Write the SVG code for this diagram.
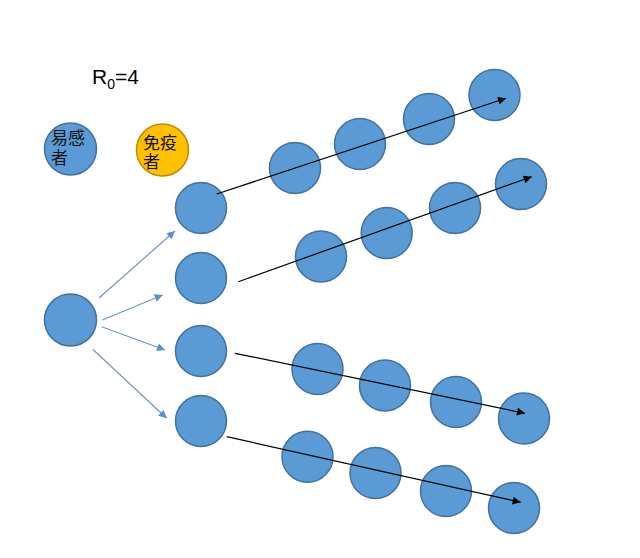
<svg xmlns="http://www.w3.org/2000/svg" width="640" height="558" viewBox="0 0 640 558">
<style>
.n{fill:#5B9BD5;stroke:#41719C;stroke-width:1.5}
.im{fill:#FFC000;stroke:#BC8C00;stroke-width:1.5}
.t{font-family:"Liberation Sans","Noto Sans CJK SC",sans-serif;fill:#000}
.cj{font-family:"Liberation Sans","Noto Sans CJK SC",sans-serif;fill:#111}
.bl{stroke:#6F98C4;stroke-width:1.2;fill:none}
.bk{stroke:#000;stroke-width:1.2;fill:none}
</style>
<defs>
<marker id="ab" viewBox="0 0 10 10" refX="10" refY="5" markerWidth="10" markerHeight="8" markerUnits="userSpaceOnUse" orient="auto">
<path d="M0,0 L10,5 L0,10 z" fill="#5B8FC8"/>
</marker>
<marker id="ak" viewBox="0 0 10 10" refX="10" refY="5" markerWidth="11" markerHeight="8" markerUnits="userSpaceOnUse" orient="auto">
<path d="M0,0 L10,5 L0,10 z" fill="#000"/>
</marker>
</defs>
<rect width="640" height="558" fill="#fff"/>
<g id="title"><text class="t" x="92" y="84" font-size="21">R<tspan font-size="14" dy="5">0</tspan><tspan dy="-5">=4</tspan></text></g>
<g id="legend-susceptible"><circle class="n" cx="70.5" cy="149" r="26"/><text class="cj" font-size="17"><tspan x="51" y="144">易感</tspan><tspan x="51" y="164">者</tspan></text></g>
<g id="legend-immune"><circle class="im" cx="162.5" cy="150" r="26"/><text class="cj" font-size="17"><tspan x="143" y="149">免疫</tspan><tspan x="143" y="168">者</tspan></text></g>
<g id="source"><circle class="n" cx="70.5" cy="320" r="26"/></g>
<g id="c1"><circle class="n" cx="201" cy="208" r="25.5"/></g>
<g id="c2"><circle class="n" cx="201" cy="278" r="25.5"/></g>
<g id="c3"><circle class="n" cx="201" cy="351" r="25.5"/></g>
<g id="c4"><circle class="n" cx="201" cy="421" r="25.5"/></g>
<g id="row1"><circle class="n" cx="295" cy="168" r="25.5"/><circle class="n" cx="360" cy="144" r="25.5"/><circle class="n" cx="429" cy="119" r="25.5"/><circle class="n" cx="494.5" cy="95" r="25.5"/></g>
<g id="row2"><circle class="n" cx="321" cy="256.5" r="25.5"/><circle class="n" cx="386.7" cy="233" r="25.5"/><circle class="n" cx="455" cy="208" r="25.5"/><circle class="n" cx="521" cy="184" r="25.5"/></g>
<g id="row3"><circle class="n" cx="317.5" cy="369" r="25.5"/><circle class="n" cx="385" cy="385.5" r="25.5"/><circle class="n" cx="456" cy="402" r="25.5"/><circle class="n" cx="524" cy="418.5" r="25.5"/></g>
<g id="row4"><circle class="n" cx="307.5" cy="456.7" r="25.5"/><circle class="n" cx="375.5" cy="473" r="25.5"/><circle class="n" cx="446" cy="491" r="25.5"/><circle class="n" cx="514" cy="508" r="25.5"/></g>
<g id="connectors">
<line class="bl" x1="99" y1="298" x2="175" y2="231" marker-end="url(#ab)"/>
<line class="bl" x1="102.3" y1="320" x2="162.7" y2="295" marker-end="url(#ab)"/>
<line class="bl" x1="101.7" y1="326.7" x2="165" y2="350" marker-end="url(#ab)"/>
<line class="bl" x1="92.7" y1="349.3" x2="166.7" y2="418.3" marker-end="url(#ab)"/>
<line class="bk" x1="216.7" y1="194" x2="506" y2="98.3" marker-end="url(#ak)"/>
<line class="bk" x1="238.3" y1="281.7" x2="531.7" y2="176.7" marker-end="url(#ak)"/>
<line class="bk" x1="235" y1="353.3" x2="525" y2="413.3" marker-end="url(#ak)"/>
<line class="bk" x1="226.7" y1="436.7" x2="520.7" y2="502.3" marker-end="url(#ak)"/>
</g>
</svg>
